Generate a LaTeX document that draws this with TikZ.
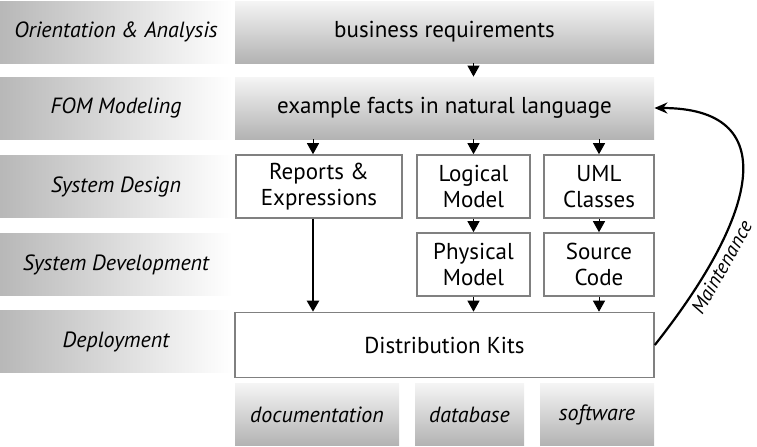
\documentclass[tikz,border=0pt]{standalone}
\usepackage{fontspec}
\setmainfont{PT Sans}
\usetikzlibrary{arrows.meta}

\tikzset{
  txt/.style={font=\fontsize{11.5}{13}\selectfont, inner sep=0pt},
  phase/.style={txt, font=\itshape\fontsize{11}{13}\selectfont,
    minimum width=116pt, minimum height=31pt, left color=black!28, right color=white},
  stage/.style={txt, minimum height=31pt, top color=black!4, bottom color=black!30},
  artefact/.style={stage, font=\itshape\fontsize{11}{13}\selectfont},
  box/.style={txt, draw=black!50, line width=0.8pt, fill=white, align=center,
    minimum height=31.5pt},
  tip/.style={-{Triangle[width=6pt,length=5.5pt]}, line width=0.5pt},
}

\begin{document}
\begin{tikzpicture}[x=0.5pt, y=-0.5pt]
    \useasboundingbox (0, 0) rectangle (757, 446);

    % phases
    \node[phase] (orient) at (116, 32)    {Orientation \& Analysis};
    \node[phase] (fom)    at (116, 108)   {FOM Modeling};
    \node[phase] (sysdes) at (116, 186.5) {System Design};
    \node[phase] (sysdev) at (116, 264.5) {System Development};
    \node[phase] (deploy) at (116, 341.5) {Deployment};

    % products
    \node[stage, minimum width=209.5pt] (req)   at (444.5, 32)  {business requirements};
    \node[stage, minimum width=209.5pt] (facts) at (444.5, 108) {example facts in natural language};

    \node[box, minimum width=83pt]   (reports)  at (319, 186.5)   {Reports \&\\Expressions};
    \node[box, minimum width=56.5pt] (logical)  at (473.5, 186.5) {Logical\\Model};
    \node[box, minimum width=55pt]   (uml)      at (599, 186.5)   {UML\\Classes};
    \node[box, minimum width=56.5pt] (physical) at (473.5, 264.5) {Physical\\Model};
    \node[box, minimum width=55pt]   (source)   at (599, 264.5)   {Source\\Code};
    \node[box, minimum width=209.5pt, minimum height=32.5pt] (kits) at (444.5, 345) {Distribution Kits};

    \node[artefact, minimum width=82pt]   (doc) at (317, 414.5)   {documentation};
    \node[artefact, minimum width=54.5pt] (db)  at (469.5, 414.5) {database};
    \node[artefact, minimum width=57pt]   (sw)  at (597, 414.5)   {software};

    \coordinate (repx) at (313, 186.5);

    \draw[tip] (req.south -| logical) -- (facts.north -| logical);
    \draw[tip] (facts.south -| repx) -- (repx |- reports.north);
    \draw[tip] (facts.south -| logical) -- (logical.north);
    \draw[tip] (facts.south -| uml) -- (uml.north);
    \draw[tip] (logical) -- (physical);
    \draw[tip] (uml) -- (source);
    \draw[tip] (physical.south) -- (kits.north -| physical);
    \draw[tip] (source.south) -- (kits.north -| source);
    \draw[-{Triangle[width=6pt,length=5.5pt]}, line width=1.2pt]
        (repx |- reports.south) -- (repx |- kits.north);

    % maintenance loop
    \draw[-{Stealth[length=6.5pt,width=5.5pt]}, line width=1.1pt]
        (kits.east) .. controls +(106, -134) and +(127, 0) .. (facts.east)
        node[pos=0.22, sloped, below=1.5pt, txt, font=\itshape\fontsize{10}{12}\selectfont] {Maintenance};
\end{tikzpicture}
\end{document}
